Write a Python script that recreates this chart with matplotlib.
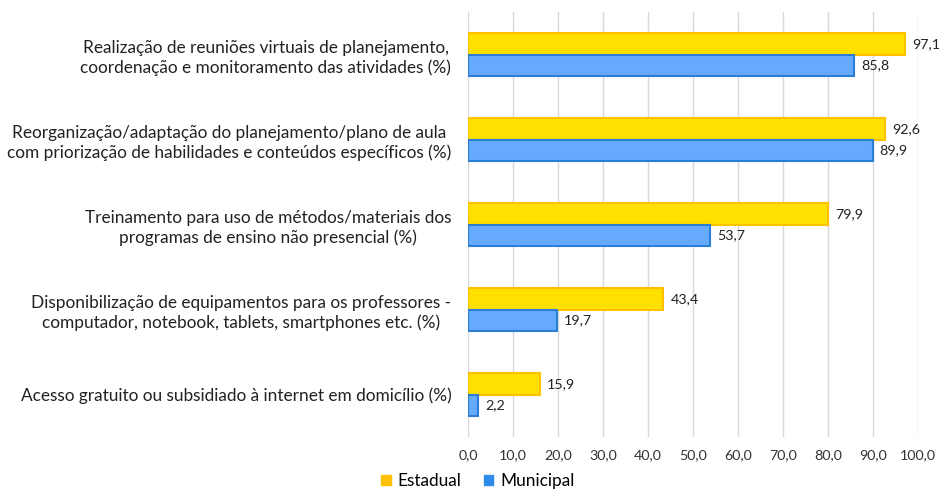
import matplotlib
matplotlib.use("Agg")
import matplotlib.pyplot as plt
import numpy as np

plt.rcParams['font.family'] = ['Lato', 'DejaVu Sans']

categories = [
    "Realização de reuniões virtuais de planejamento,\ncoordenação e monitoramento das atividades (%)",
    "Reorganização/adaptação do planejamento/plano de aula\ncom priorização de habilidades e conteúdos específicos (%)",
    "Treinamento para uso de métodos/materiais dos\nprogramas de ensino não presencial (%)",
    "Disponibilização de equipamentos para os professores -\ncomputador, notebook, tablets, smartphones etc. (%)",
    "Acesso gratuito ou subsidiado à internet em domicílio (%)",
]
estadual = [97.1, 92.6, 79.9, 43.4, 15.9]
municipal = [85.8, 89.9, 53.7, 19.7, 2.2]
series_names = ["Estadual", "Municipal"]
xticks = [0, 10, 20, 30, 40, 50, 60, 70, 80, 90, 100]

fig = plt.figure(figsize=(9.39, 4.92), dpi=100)
ax = fig.add_axes([468/939, 1-437/492, 450/939, 425/492])

y = np.arange(len(categories))
h = 0.25
b1 = ax.barh(y - h/2, estadual, height=h, color='#FFE000', edgecolor='#FFC000', linewidth=1.5, label=series_names[0], zorder=3)
b2 = ax.barh(y + h/2, municipal, height=h, color='#66AAFF', edgecolor='#2A7FD4', linewidth=1.5, label=series_names[1], zorder=3)

def fmt(v):
    return f"{v:.1f}".replace('.', ',')

for bars, vals in ((b1, estadual), (b2, municipal)):
    for bar, v in zip(bars, vals):
        ax.text(v + 1.6, bar.get_y() + bar.get_height()/2, fmt(v), va='center', ha='left',
                fontsize=10.3, color='#222222')

ax.set_xlim(0, 100)
ax.set_ylim(len(categories) - 0.5, -0.5)
ax.set_xticks(xticks)
ax.set_xticklabels([fmt(t) for t in xticks], fontsize=10.3, color='#333333')
ax.set_yticks(y)
ax.set_yticklabels(categories, fontsize=12.4, color='#222222', multialignment='center',
                   linespacing=1.25)
ax.tick_params(axis='both', length=0)
ax.tick_params(axis='y', pad=12)
ax.tick_params(axis='x', pad=9)
ax.grid(axis='x', color='#D9D9D9', linewidth=1, zorder=0)
ax.set_axisbelow(True)
for s in ax.spines.values():
    s.set_visible(False)

from matplotlib.patches import Patch
handles = [Patch(facecolor='#FFC000', edgecolor='#FFC000'), Patch(facecolor='#2E8BEA', edgecolor='#2E8BEA')]
fig.legend(handles=handles, labels=series_names, loc='center', bbox_to_anchor=(478/939, 0.022),
           ncol=2, frameon=False, fontsize=12.4, handlelength=0.55, handleheight=0.55,
           columnspacing=1.3, handletextpad=0.4, borderpad=0)

fig.savefig("out.png", dpi=100)
